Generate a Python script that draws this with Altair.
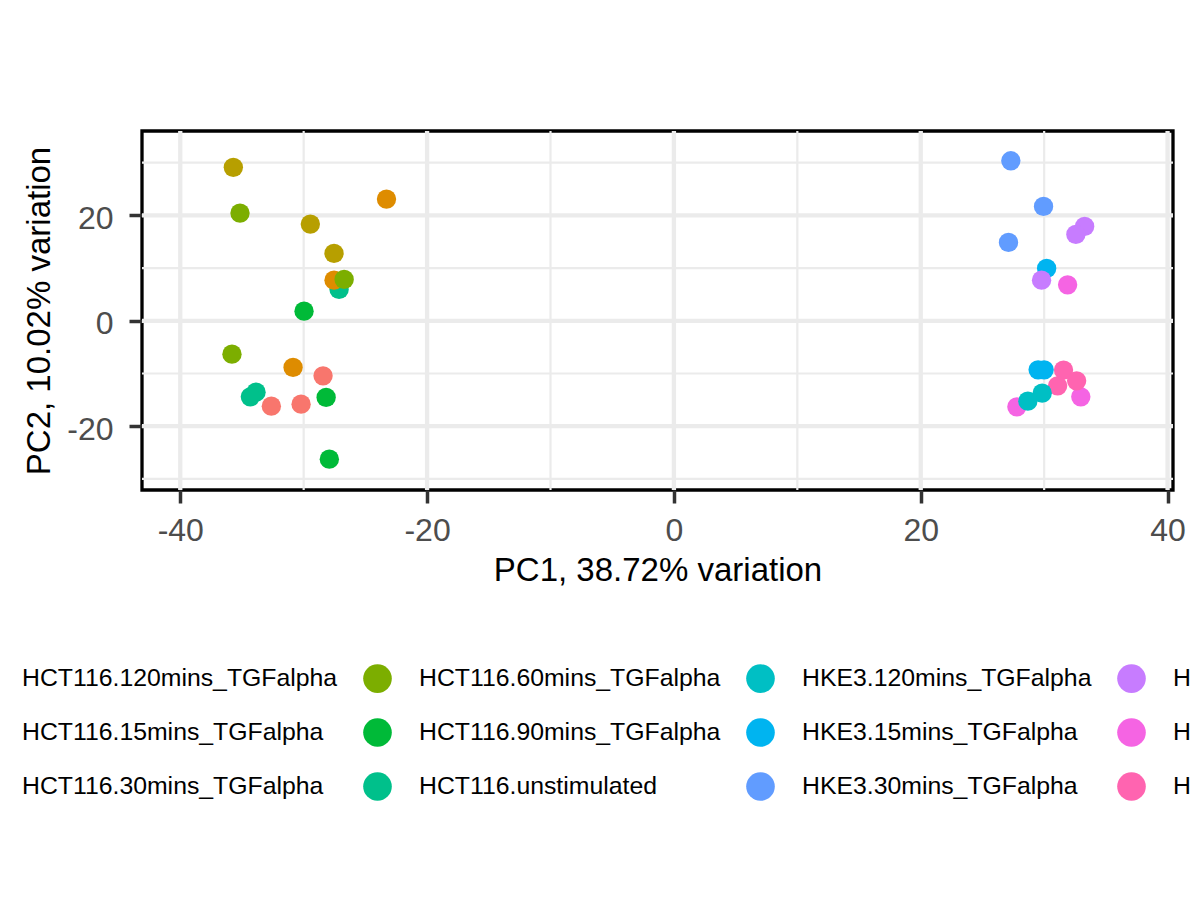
import pandas as pd
import altair as alt

FONT = "Liberation Sans"

# samples in drawing order (later points sit on top)
GROUP = (
    ["HCT116.unstimulated"] * 3
    + ["HCT116.120mins_TGFalpha"] * 3
    + ["HCT116.15mins_TGFalpha"] * 3
    + ["HCT116.30mins_TGFalpha"] * 3
    + ["HCT116.90mins_TGFalpha"] * 3
    + ["HCT116.60mins_TGFalpha"] * 3
    + ["HKE3.30mins_TGFalpha"] * 3
    + ["HKE3.15mins_TGFalpha"] * 3
    + ["HKE3.60mins_TGFalpha"] * 3
    + ["HKE3.90mins_TGFalpha"] * 3
    + ["HKE3.unstimulated"] * 3
    + ["HKE3.120mins_TGFalpha"] * 2
)
PC1 = [
    -27.13, -33.86, -34.32,
    -28.43, -32.62, -30.21,
    -23.29, -27.54, -30.86,
    -35.70, -29.46, -27.54,
    -29.97, -28.18, -27.92,
    -35.16, -26.72, -35.81,
    27.30, 29.95, 27.11,
    30.20, 29.51, 30.00,
    33.28, 32.57, 29.79,
    31.90, 27.79, 32.97,
    31.57, 32.63, 31.09,
    29.84, 28.68,
]
PC2 = [
    5.95, -13.54, -14.43,
    -10.45, -16.20, -15.82,
    23.08, 7.71, -8.85,
    29.10, 18.34, 12.78,
    1.83, -14.54, -26.25,
    20.43, 7.85, -6.33,
    30.35, 21.70, 14.87,
    9.93, -9.31, -9.31,
    17.90, 16.39, 7.71,
    6.82, -16.33, -14.43,
    -9.36, -11.39, -12.34,
    -13.73, -15.25,
]

# vega fills the legend column by column, same as ggplot here
LEGEND_ORDER = [
    "HCT116.120mins_TGFalpha", "HCT116.15mins_TGFalpha", "HCT116.30mins_TGFalpha",
    "HCT116.60mins_TGFalpha", "HCT116.90mins_TGFalpha", "HCT116.unstimulated",
    "HKE3.120mins_TGFalpha", "HKE3.15mins_TGFalpha", "HKE3.30mins_TGFalpha",
    "HKE3.60mins_TGFalpha", "HKE3.90mins_TGFalpha", "HKE3.unstimulated",
]
LEGEND_COLORS = [
    "#F8766D", "#DE8C00", "#B79F00",
    "#7CAE00", "#00BA38", "#00C08B",
    "#00BFC4", "#00B4F0", "#619CFF",
    "#C77CFF", "#F564E3", "#FF64B0",
]

X_MAJOR = [-40, -20, 0, 20, 40]
X_MINOR = [-30, -10, 10, 30]
Y_MAJOR = [-20, 0, 20]
Y_MINOR = [-30, -10, 10, 30]
X_DOMAIN = [-43.1, 40.44]
Y_DOMAIN = [-32.1, 36.0]

W, H = 1031, 359

df = pd.DataFrame({"group": GROUP, "PC1": PC1, "PC2": PC2})

xs = alt.Scale(domain=X_DOMAIN, nice=False, zero=False)
ys = alt.Scale(domain=Y_DOMAIN, nice=False, zero=False)

x_axis = alt.Axis(
    values=X_MAJOR, labelExpr="'' + datum.value",
    title="PC1, 38.72% variation",
    titleX=W / 2, titleY=90, titleBaseline="alphabetic",
    labelPadding=12,
)
y_axis = alt.Axis(
    values=Y_MAJOR, labelExpr="'' + datum.value",
    title="PC2, 10.02% variation",
    titleX=-93, titleY=H / 2, titleBaseline="alphabetic",
    labelPadding=16, labelOffset=3,
)


def vgrid(vals, width):
    return alt.Chart(pd.DataFrame({"gx": vals})).mark_rule(
        color="#EBEBEB", strokeWidth=width
    ).encode(x=alt.X("gx:Q", scale=xs, axis=x_axis))


def hgrid(vals, width):
    return alt.Chart(pd.DataFrame({"gy": vals})).mark_rule(
        color="#EBEBEB", strokeWidth=width
    ).encode(y=alt.Y("gy:Q", scale=ys, axis=y_axis))


points = alt.Chart(df).mark_circle(size=375, opacity=1).encode(
    x=alt.X("PC1:Q", scale=xs, axis=x_axis),
    y=alt.Y("PC2:Q", scale=ys, axis=y_axis),
    color=alt.Color(
        "group:N",
        scale=alt.Scale(domain=LEGEND_ORDER, range=LEGEND_COLORS),
        legend=alt.Legend(
            title=None, orient="none", legendX=-176, legendY=533,
            columns=4, columnPadding=25, rowPadding=25,
            symbolType="circle", symbolSize=820, symbolOpacity=1,
            symbolStrokeWidth=0, labelOffset=27, padding=0,
            labelFont=FONT, labelFontSize=24.8, labelColor="black",
            labelLimit=0,
        ),
    ),
)

chart = (
    vgrid(X_MINOR, 2.2) + hgrid(Y_MINOR, 2.2)
    + vgrid(X_MAJOR, 4.3) + hgrid(Y_MAJOR, 4.3)
    + points
).properties(
    width=W, height=H,
    autosize=alt.AutoSizeParams(type="none"),
    padding={"left": 134, "top": 123, "right": 19, "bottom": 380},
    background="white",
).configure_view(
    stroke="black", strokeWidth=3.3
).configure_axis(
    grid=False, domain=False,
    labelFont=FONT, labelFontSize=32, labelColor="#4D4D4D",
    titleFont=FONT, titleFontSize=33, titleColor="black", titleFontWeight="normal",
    tickColor="#333333", tickWidth=3.5, tickSize=13,
)

chart.save("out.html", embed_options={"renderer": "svg", "actions": False})
